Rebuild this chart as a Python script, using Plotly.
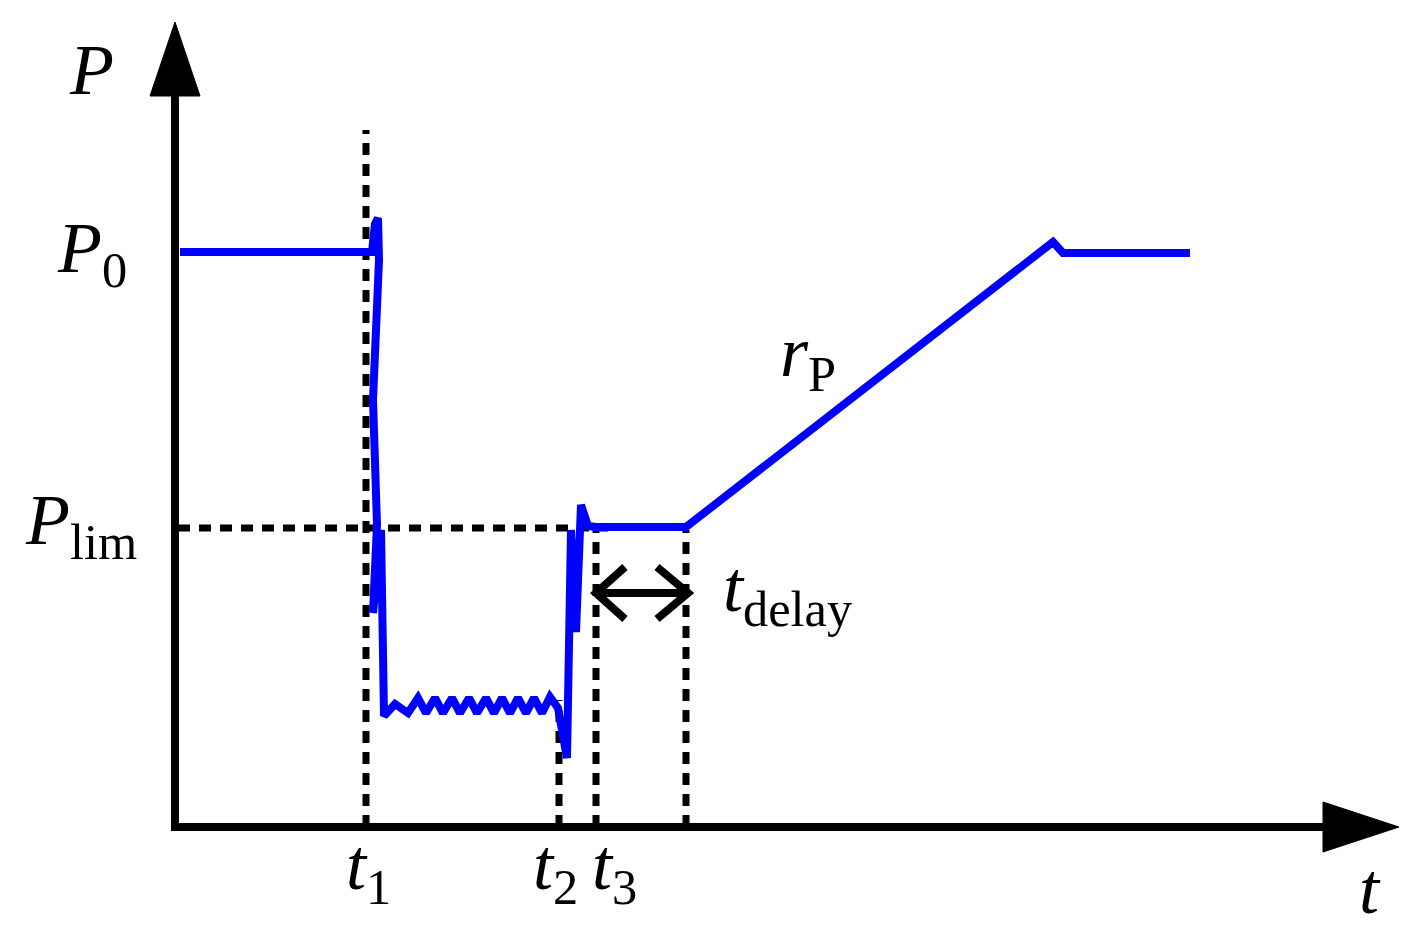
import plotly.graph_objects as go

# ---- data (t along horizontal axis, P along vertical axis; schematic units) ----
t_curve = [5, 197, 200, 203, 204, 201, 198, 202, 198, 206, 209,
           220, 233, 243, 251, 260, 268, 277, 285, 294, 302, 311, 319, 327, 335,
           343, 351, 359, 367, 375, 383,
           392, 396, 401, 406, 413, 421, 511, 878, 888, 1015]
p_curve = [575, 575, 603, 609, 567, 497, 427, 302, 214, 297, 111,
           123, 114, 129, 114, 129, 114, 129, 114, 129, 114, 129, 114, 129, 114,
           129, 114, 129, 114, 130, 119,
           69, 297, 195, 322, 301, 300, 300, 585, 574, 574]

T1, T2, T3, T4 = 191, 384, 421, 511
P0, PLIM = 575, 300
T1_TOP, T2_TOP = 697, 127
T_AXIS_END, T_AXIS_TIP = 1148, 1224
P_AXIS_END, P_AXIS_TIP = 731, 805
ARROW_P = 234

labels = [
    ("<i>P</i>", -84, 757),
    ("<i>P</i><sub>0</sub>", -83, 574),
    ("<i>P</i><sub>lim</sub>", -94, 302),
    ("<i>t</i><sub>1</sub>", 193, -43),
    ("<i>t</i><sub>2</sub>", 380, -43),
    ("<i>t</i><sub>3</sub>", 439, -43),
    ("<i>t</i>", 1195, -62),
    ("<i>r</i><sub>P</sub>", 633, 470),
    ("<i>t</i><sub>delay</sub>", 612, 235),
]

BLUE = "#0000FF"
BLACK = "#000000"
DASH = "12px,9px"

fig = go.Figure()

def line(x, y, color=BLACK, width=6, dash=None):
    fig.add_trace(go.Scatter(x=x, y=y, mode="lines", hoverinfo="skip",
                             line=dict(color=color, width=width, dash=dash)))

def tri(x, y):
    fig.add_trace(go.Scatter(x=x, y=y, mode="lines", fill="toself",
                             fillcolor=BLACK, line=dict(color=BLACK, width=1),
                             hoverinfo="skip"))

# dashed guide lines
line([T1, T1], [0, T1_TOP], dash=DASH, width=7)
line([T2, T2], [0, T2_TOP], dash=DASH, width=7)
line([T3, T3], [0, PLIM - 3], dash=DASH, width=7)
line([T4, T4], [0, PLIM - 3], dash=DASH, width=7)
line([3, T3 + 12], [PLIM - 1, PLIM - 1], dash=DASH, width=7)

# axes
line([-4, T_AXIS_END], [0, 0], width=8)
line([0, 0], [-4, P_AXIS_END], width=8)
tri([T_AXIS_END, T_AXIS_TIP, T_AXIS_END, T_AXIS_END], [25, 0, -25, 25])
tri([-25, 0, 25, -25], [P_AXIS_END, P_AXIS_TIP, P_AXIS_END, P_AXIS_END])

# blue power curve
line(t_curve, p_curve, color=BLUE, width=8)

# t_delay double arrow
line([T3 + 29, T3, T3 + 29], [ARROW_P + 26, ARROW_P, ARROW_P - 26], width=8)
line([T4 - 29, T4 + 2, T4 - 29], [ARROW_P + 26, ARROW_P, ARROW_P - 26], width=8)
line([T3, T4 + 2], [ARROW_P, ARROW_P], width=8)

for text, x, y in labels:
    fig.add_annotation(x=x, y=y, text=text, showarrow=False,
                       xanchor="center", yanchor="middle",
                       font=dict(family="Liberation Serif", size=72, color=BLACK))

# page body has an 8px default margin: the figure starts 8px in from the window edge
fig.update_layout(
    width=1411, height=923,
    margin=dict(l=0, r=0, t=0, b=0),
    paper_bgcolor="white", plot_bgcolor="white",
    showlegend=False,
    xaxis=dict(range=[-167, 1244], visible=False, fixedrange=True),
    yaxis=dict(range=[-104, 819], visible=False, fixedrange=True),
)

fig.write_html("out.html")
